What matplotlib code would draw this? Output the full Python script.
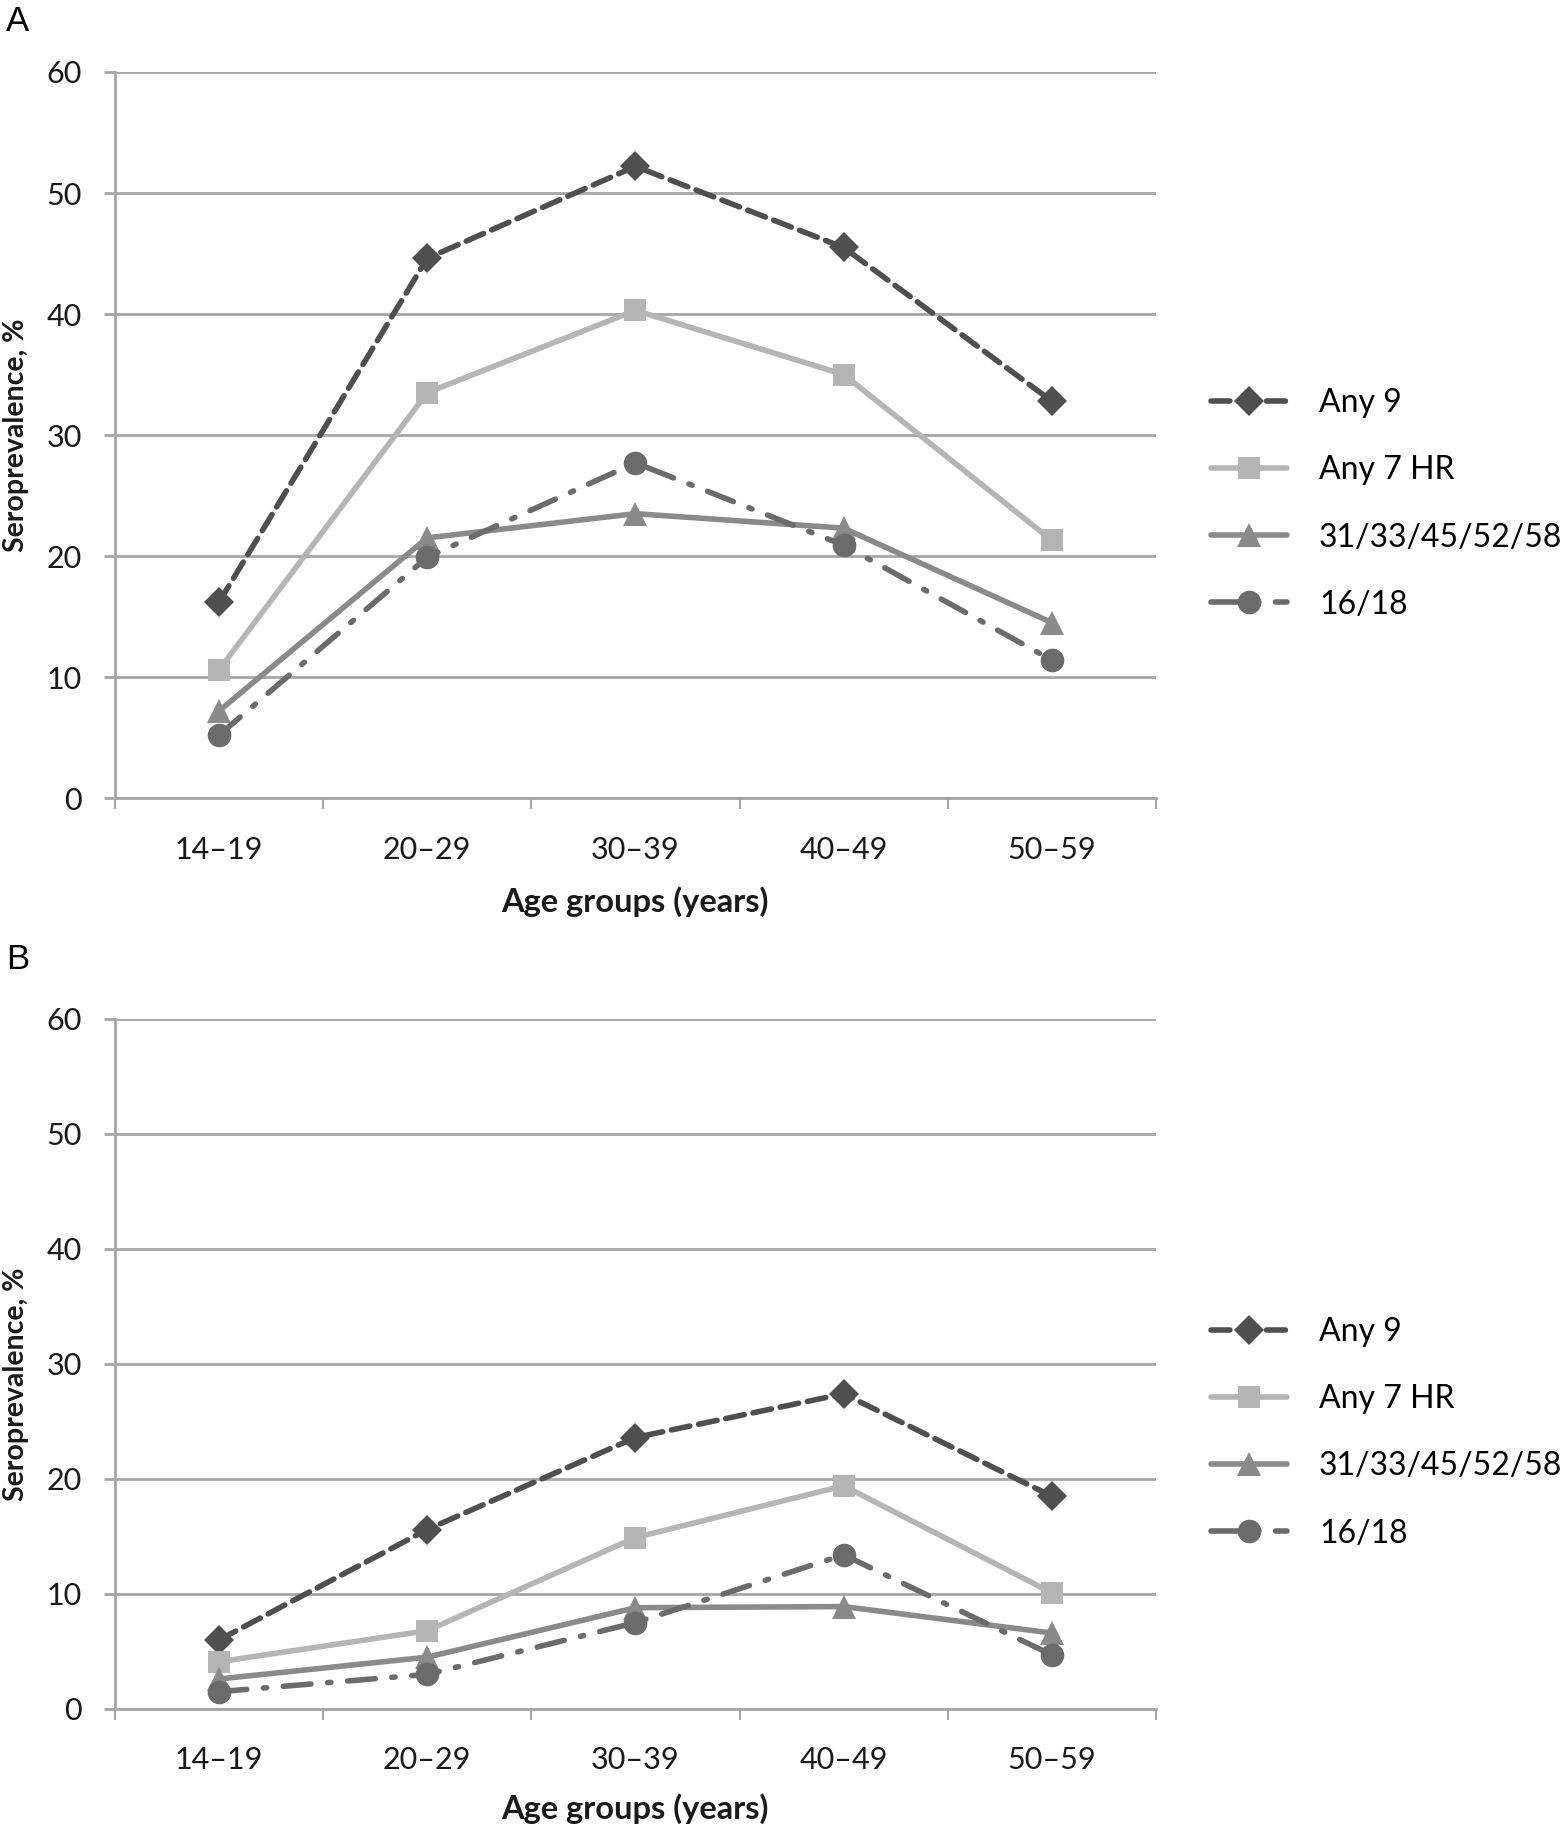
import matplotlib
matplotlib.use('Agg')
import matplotlib.pyplot as plt

ages = ['14\u201319', '20\u201329', '30\u201339', '40\u201349', '50\u201359']
series_names = ['Any 9', 'Any 7 HR', '31/33/45/52/58', '16/18']

# panel A
a_any9 = [16.2, 44.6, 52.2, 45.5, 32.8]
a_any7 = [10.6, 33.5, 40.3, 35.0, 21.3]
a_five = [7.2, 21.5, 23.5, 22.3, 14.5]
a_1618 = [5.2, 19.9, 27.7, 20.9, 11.4]

# panel B
b_any9 = [6.0, 15.6, 23.6, 27.4, 18.5]
b_any7 = [4.1, 6.8, 14.9, 19.4, 10.1]
b_five = [2.6, 4.5, 8.8, 8.9, 6.6]
b_1618 = [1.5, 3.0, 7.5, 13.4, 4.7]

yticks = [0, 10, 20, 30, 40, 50, 60]

plt.rcParams['font.family'] = ['Lato', 'DejaVu Sans']

grid_c = '#a6a6a6'
txt_c = '#1a1a1a'
styles = [
    dict(color='#4f4f4f', marker='D', markersize=15, lw=4, dashes=(3.4, 1.6)),
    dict(color='#b5b5b5', marker='s', markersize=16, lw=4, linestyle='-'),
    dict(color='#8a8a8a', marker='^', markersize=17, lw=4, linestyle='-'),
    dict(color='#6b6b6b', marker='o', markersize=17, lw=4, dashes=(5, 3, 0.6, 3)),
]


def panel(ax, data, leg_y, ylab_y):
    x = list(range(len(ages)))
    for vals, name, st in zip(data, series_names, styles):
        ax.plot(x, vals, label=name, markeredgewidth=0, solid_capstyle='round',
                dash_capstyle='round', **st)
    ax.set_xlim(-0.5, 4.5)
    ax.set_ylim(0, 60)
    ax.set_yticks(yticks)
    ax.yaxis.grid(True, color=grid_c, lw=2)
    ax.set_axisbelow(True)
    for s in ['top', 'right']:
        ax.spines[s].set_visible(False)
    for s in ['left', 'bottom']:
        ax.spines[s].set_color(grid_c)
        ax.spines[s].set_linewidth(2)
    # tick marks sit between the age groups, labels at the centres
    ax.set_xticks([i - 0.5 for i in range(len(ages) + 1)])
    ax.set_xticklabels([])
    ax.set_xticks(x, minor=True)
    ax.set_xticklabels(ages, minor=True)
    ax.tick_params(axis='x', which='major', length=8, width=1.5, color=grid_c)
    ax.tick_params(axis='x', which='minor', length=0, pad=27, labelsize=22, labelcolor=txt_c)
    ax.tick_params(axis='y', length=8, width=2, color=grid_c, pad=16, labelsize=22,
                   labelcolor=txt_c)
    ax.set_xlabel('Age groups (years)', fontsize=23.5, fontweight='bold', color=txt_c)
    ax.xaxis.set_label_coords(0.5, -0.122)
    ax.set_ylabel('Seroprevalence, %', fontsize=20.5, fontweight='bold', color=txt_c)
    ax.yaxis.set_label_coords(-0.083, ylab_y)
    ax.legend(loc='center left', bbox_to_anchor=(1.053, leg_y), frameon=False,
              borderpad=0, borderaxespad=0, numpoints=1, fontsize=23,
              handlelength=2.38, handletextpad=1.0, labelspacing=1.16)


fig = plt.figure(figsize=(15.62, 18.32), dpi=100)
axA = fig.add_axes([0.0736, 0.5644, 0.6664, 0.3963])
axB = fig.add_axes([0.0736, 0.0672, 0.6664, 0.3766])

panel(axA, [a_any9, a_any7, a_five, a_1618], 0.405, 0.5)
panel(axB, [b_any9, b_any7, b_five, b_1618], 0.40, 0.47)

fig.text(0.004, 0.988, 'A', fontsize=25, family='Liberation Sans', va='center', ha='left')
fig.text(0.004, 0.476, 'B', fontsize=25, family='Liberation Sans', va='center', ha='left')

fig.savefig('out.png', dpi=100)
